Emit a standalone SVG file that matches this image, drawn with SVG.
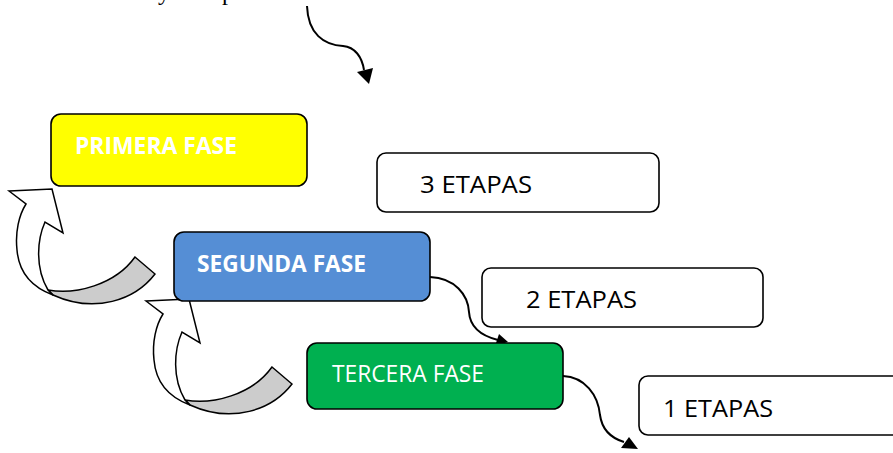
<svg xmlns="http://www.w3.org/2000/svg" xmlns:xlink="http://www.w3.org/1999/xlink" width="893" height="453" viewBox="0 0 893 453">
<style>
.box{stroke:#000;stroke-width:1.6}
.lbl{font-family:"Open Sans","Liberation Sans",sans-serif;font-size:24px}
.w{fill:#fff}
.b{font-weight:bold}
.k{fill:#000}
.conn{fill:none;stroke:#000;stroke-width:2}
.head{fill:#000}
.front{fill:#fff;stroke:#000;stroke-width:1.5;stroke-linejoin:miter}
.back{fill:#cccccc;stroke:#000;stroke-width:1.5}
</style>
<defs>
<g id="uturn">
<path class="back" d="M48,290 C75,295 115,285 135,257 L155,274 C135,300 95,314 53,295 Z"/>
<path class="front" d="M9,191 L52,189 L63,233 L45,222 C37,240 35,268 48,290 L53,295 C34,288 19,274 17,250 C15,232 19,215 26,204 Z"/>
</g>
</defs>
<rect width="893" height="453" fill="#fff"/>
<text x="158" y="0" style="font-family:'Liberation Serif',serif;font-size:24px" fill="#000"><tspan x="158">y</tspan><tspan x="222">p</tspan></text>

<g id="curved-arrows">
<use xlink:href="#uturn" href="#uturn"/>
<use xlink:href="#uturn" href="#uturn" transform="translate(137,110)"/>
</g>

<g id="connectors">
<path class="conn" d="M307,6 C308,34 324,45 343,46 C355,47 362,57 364,70"/>
<polygon class="head" points="357,72 373,68 369,84"/>
<path class="conn" d="M430,277 C455,278 468,295 469,312 C470,328 482,336 498,340"/>
<polygon class="head" points="495,346 499,334 508,342"/>
<path class="conn" d="M563,376 C585,377 598,395 600,415 C602,430 611,438 624,442"/>
<polygon class="head" points="621,448 629,437 638,449"/>
</g>

<g id="primera">
<rect class="box" x="51" y="114" width="256" height="72" rx="10" fill="#ffff00"/>
<text class="lbl w b" x="75" y="154" textLength="162" lengthAdjust="spacingAndGlyphs">PRIMERA FASE</text>
</g>
<g id="etapas3">
<rect class="box" x="377" y="153" width="282" height="59" rx="9" fill="#fff"/>
<text class="lbl k" x="420" y="193" textLength="112" lengthAdjust="spacingAndGlyphs">3 ETAPAS</text>
</g>
<g id="segunda">
<rect class="box" x="174" y="232" width="256" height="69" rx="10" fill="#558ed5"/>
<text class="lbl w b" x="197" y="272" textLength="169" lengthAdjust="spacingAndGlyphs">SEGUNDA FASE</text>
</g>
<g id="etapas2">
<rect class="box" x="482" y="268" width="281" height="59" rx="9" fill="#fff"/>
<text class="lbl k" x="526" y="308" textLength="111" lengthAdjust="spacingAndGlyphs">2 ETAPAS</text>
</g>
<g id="tercera">
<rect class="box" x="307" y="343" width="256" height="66" rx="10" fill="#00b050"/>
<text class="lbl w" x="332" y="382" textLength="152" lengthAdjust="spacingAndGlyphs">TERCERA FASE</text>
</g>
<g id="etapas1">
<rect class="box" x="639" y="376" width="270" height="59" rx="9" fill="#fff"/>
<text class="lbl k" x="663" y="417" textLength="110" lengthAdjust="spacingAndGlyphs">1 ETAPAS</text>
</g>
</svg>
